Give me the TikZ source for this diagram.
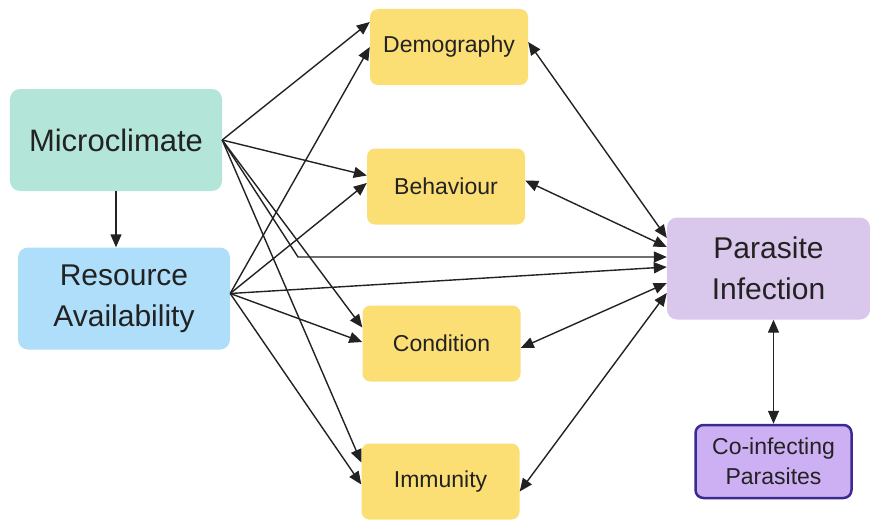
\documentclass[tikz,border=0pt]{standalone}
\usepackage{fontspec}
\setmainfont{Liberation Sans}
\usetikzlibrary{ % tikz packages
    positioning,
    arrows.meta
}
\definecolor{microFill}{HTML}{B3E6D9}
\definecolor{resFill}{HTML}{AEDEFA}
\definecolor{factorFill}{HTML}{FBDE74}
\definecolor{paraFill}{HTML}{D9C7EC}
\definecolor{coFill}{HTML}{CDB0F4}
\definecolor{coBorder}{HTML}{3B2A8F}
\definecolor{inkDark}{HTML}{222222}
\tikzset{
    bigbox/.style={rectangle, rounded corners=10pt, minimum width=212pt,
        minimum height=102pt, align=center, text=inkDark,
        font=\fontsize{30}{41}\selectfont},
    factor/.style={rectangle, rounded corners=8pt, fill=factorFill,
        minimum width=158pt, minimum height=76pt, align=center,
        text=inkDark, font=\fontsize{23}{30}\selectfont},
    link/.style={draw=inkDark, line width=1.4pt,
        -{Triangle[length=13pt,width=11pt]}},
    twoway/.style={link,
        {Triangle[length=13pt,width=11pt]}-{Triangle[length=13pt,width=11pt]}}
}

\begin{document}
\begin{tikzpicture}[on grid]
        \node[bigbox, fill=microFill, font=\fontsize{31}{41}\selectfont] (micro) at (0,0) {Microclimate};
        \node[bigbox, fill=resFill] (res) [below right=158.5pt and 8pt of micro] {Resource\\Availability};

        \node[factor] (demo) [above right=93pt and 333pt of micro] {Demography};
        \node[factor] (behav) [below left=139.5pt and 3pt of demo] {Behaviour};
        \node[factor] (cond) [below left=157pt and 4.5pt of behav] {Condition};
        \node[factor] (immu) [below left=138pt and 1pt of cond] {Immunity};

        \node[bigbox, fill=paraFill, minimum width=203pt] (para) [below right=128.5pt and 652.5pt of micro] {Parasite\\Infection};
        \node[factor, fill=coFill, draw=coBorder, line width=2.5pt,
            minimum width=156pt, minimum height=73pt] (coinf) [below right=193pt and 5pt of para] {Co-infecting\\Parasites};

        \useasboundingbox ([xshift=-116pt,yshift=140pt]micro.center)
            rectangle ([xshift=754pt,yshift=-379pt]micro.center);

        \coordinate (resOut) at ([yshift=5pt]res.east);
        \coordinate (kink) at ([xshift=182pt,yshift=-117pt]micro.center);

        % microclimate
        \draw[link] (micro.south) -- (micro.south |- res.north);
        \draw[link] (micro.east) -- ([yshift=25pt]demo.west);
        \draw[link] (micro.east) -- ([yshift=11pt]behav.west);
        \draw[link] (micro.east) -- ([yshift=16pt]cond.west);
        \draw[link] (micro.east) -- ([yshift=19pt]immu.west);
        \draw[link] (micro.east) -- (kink) -- ([yshift=11.5pt]para.west);

        % resources
        \draw[link] (resOut) -- (demo.west);
        \draw[link] (resOut) -- ([yshift=3.5pt]behav.west);
        \draw[link] (resOut) -- ([yshift=1.5pt]para.west);
        \draw[link] (resOut) -- ([yshift=1.5pt]cond.west);
        \draw[link] (resOut) -- ([yshift=-3pt]immu.west);

        % host traits and infection
        \draw[twoway] ([yshift=5pt]demo.east) -- ([yshift=30.5pt]para.west);
        \draw[twoway] ([yshift=6pt]behav.east) -- ([yshift=21.5pt]para.west);
        \draw[twoway] ([yshift=-4.5pt]cond.east) -- ([yshift=-14.5pt]para.west);
        \draw[twoway] ([yshift=-10pt]immu.east) -- ([yshift=-24.5pt]para.west);
        \draw[twoway] (coinf.north) -- (coinf.north |- para.south);
\end{tikzpicture}
\end{document}
